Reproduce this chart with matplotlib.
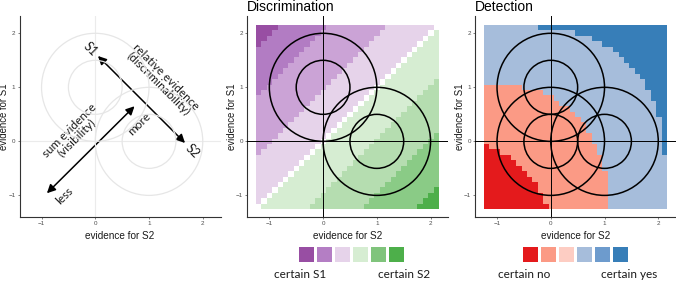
import numpy as np
import matplotlib
matplotlib.use("Agg")
import matplotlib.pyplot as plt
from matplotlib.patches import Circle
from matplotlib.colors import ListedColormap

plt.rcParams['font.family'] = ['Liberation Sans', 'DejaVu Sans']
NOTE_FONT = ['Lato', 'DejaVu Sans']

# evidence grid (cell centres), same for both axes
grid = np.round(np.arange(-1.2, 2.15, 0.1), 1)
ticks = [-1, 0, 1, 2]

# stimulus distributions: centres (S2 evidence, S1 evidence) and contour radii
disc_centres = [(0, 1), (1, 0)]
det_centres = [(0, 0), (0, 1), (1, 0)]
radii = [0.5, 1.0]

# Discrimination: colour level by relative evidence (S1 - S2)
disc_edges = [-2.95, -1.95, -0.95, 0.0, 0.95, 2.05, 2.95]
disc_colors = ["#4daf4a", "#8acb86", "#b5ddb0", "#d6edd2",
               "#e6d3ea", "#cba3d6", "#b27cc3", "#984ea3"]
disc_legend = ["#984ea3", "#b47ec4", "#e6d3ea", "#d6edd2", "#80c47c", "#4daf4a"]

# Detection: per row (evidence for S1 from 2.1 down to -1.2)
# last cell of "certain no", last cell of "no", first cell of "certain yes"
det_red_end = [None] * 22 + [-1.2, -1.0, -0.8, -0.7, -0.6, -0.5,
                             -0.4, -0.3, -0.3, -0.2, -0.2, -0.1]
det_salmon_end = [None] * 11 + [-0.6, -0.2, 0.0, 0.1, 0.3, 0.4, 0.5, 0.6, 0.6,
                                0.7, 0.7, 0.8, 0.8, 0.9, 0.9, 0.9] + [1.0] * 7
det_dark_start = [-0.2, 0.5, 0.8, 1.0, 1.2, 1.3, 1.4, 1.5, 1.6, 1.7, 1.8,
                  1.8, 1.9, 1.9, 2.0, 2.0, 2.0] + [2.1] * 7 + [None] * 10
det_colors = ["#e41a1c", "#fb9a85", "#fdcdc3", "#a6bddb", "#6d9bcd", "#377eb8"]

W, H = 676, 281
fig = plt.figure(figsize=(W / 100, H / 100), dpi=100)

XLIM = (-1.41, 2.33)
YLIM = (-1.40, 2.32)
ext = (grid[0] - 0.05, grid[-1] + 0.05, grid[0] - 0.05, grid[-1] + 0.05)


def make_axes(left_px):
    ax = fig.add_axes([left_px / W, (H - 217) / H, 201 / W, 201 / H])
    ax.set_xlim(*XLIM)
    ax.set_ylim(*YLIM)
    ax.set_xticks(ticks)
    ax.set_yticks(ticks)
    ax.tick_params(labelsize=4.5, labelcolor="#4d4d4d", color="#4d4d4d",
                   length=1.5, width=0.5, pad=1.5)
    for s in ["top", "right"]:
        ax.spines[s].set_visible(False)
    for s in ["left", "bottom"]:
        ax.spines[s].set_color("#333333")
        ax.spines[s].set_linewidth(0.8)
    ax.set_xlabel("evidence for S2", fontsize=7.2, color="#1a1a1a")
    ax.set_ylabel("evidence for S1", fontsize=6.9, color="#1a1a1a")
    ax.xaxis.set_label_coords(0.5, -0.07)
    ax.yaxis.set_label_coords(-0.051, 0.5)
    return ax


def draw_circles(ax, centres, color, lw):
    for c in centres:
        for r in radii:
            ax.add_patch(Circle(c, r, fill=False, ec=color, lw=lw, zorder=4))


def draw_legend(left_px, colors, lab_left, lab_right, lab_x):
    lax = fig.add_axes([left_px / W, (H - 262) / H, 105 / W, 15 / H])
    lax.bar(np.arange(len(colors)), 1, width=15 / 18, color=colors, align="edge")
    lax.set_xlim(0, len(colors) - 3 / 18)
    lax.set_ylim(0, 1)
    lax.axis("off")
    for txt, x in zip([lab_left, lab_right], lab_x):
        fig.text(x / W, 1 - 275 / H, txt, ha="center", va="center",
                 fontsize=8.5, family=NOTE_FONT, color="#1a1a1a")


# ---- panel 1: schematic
ax1 = make_axes(19.5)
ax1.axhline(0, color="#ebebeb", lw=0.8, zorder=1)
ax1.axvline(0, color="#ebebeb", lw=0.8, zorder=1)
draw_circles(ax1, disc_centres, "#e6e6e6", 0.9)
arrow = dict(arrowstyle="<|-|>,head_length=0.5,head_width=0.25", lw=1.1,
             color="black", shrinkA=0, shrinkB=0)
ax1.annotate("", xy=(0.05, 1.58), xytext=(1.67, -0.03), arrowprops=arrow)
ax1.annotate("", xy=(-0.9, -0.96), xytext=(0.73, 0.65), arrowprops=arrow)
note = dict(ha="center", va="center", rotation_mode="anchor",
            family=NOTE_FONT, color="#1a1a1a")
ax1.text(-0.1, 1.7, "S1", rotation=-45, fontsize=9, **note)
ax1.text(1.8, -0.19, "S2", rotation=-45, fontsize=9, **note)
ax1.text(1.25, 1.13, "relative evidence\n(discriminability)", rotation=-45,
         fontsize=8.5, linespacing=0.95, **note)
ax1.text(-0.41, 0.13, "sum evidence\n(visibility)", rotation=45,
         fontsize=8.5, linespacing=0.95, **note)
ax1.text(0.82, 0.33, "more", rotation=45, fontsize=8.5, **note)
ax1.text(-0.58, -1.01, "less", rotation=45, fontsize=8.5, **note)

# ---- panel 2: discrimination
X, Y = np.meshgrid(grid, grid)
diff = np.round(Y - X, 2)
disc = np.digitize(diff, disc_edges).astype(float)
disc[np.abs(diff) < 0.05] = np.nan

ax2 = make_axes(247.3)
ax2.imshow(np.ma.masked_invalid(disc), origin="lower", extent=ext,
           cmap=ListedColormap(disc_colors), vmin=-0.5, vmax=7.5,
           interpolation="nearest", aspect="auto", zorder=1)
ax2.axhline(0, color="black", lw=0.7, zorder=3)
ax2.axvline(0, color="black", lw=0.7, zorder=3)
draw_circles(ax2, disc_centres, "black", 1.1)
ax2.set_xlim(*XLIM)
ax2.set_ylim(*YLIM)
ax2.set_title("Discrimination", loc="left", fontsize=10, pad=3.5, x=0.0)
draw_legend(299, disc_legend, "certain S1", "certain S2", [300.5, 404.5])

# ---- panel 3: detection
det = np.full((len(grid), len(grid)), 3.0)
for i, yv in enumerate(grid[::-1]):
    row = len(grid) - 1 - i
    if det_salmon_end[i] is not None:
        det[row, grid <= det_salmon_end[i] + 1e-9] = 1
    if det_red_end[i] is not None:
        det[row, grid <= det_red_end[i] + 1e-9] = 0
    if det_dark_start[i] is not None:
        det[row, grid >= det_dark_start[i] - 1e-9] = 5

ax3 = make_axes(475)
ax3.imshow(det, origin="lower", extent=ext, cmap=ListedColormap(det_colors),
           vmin=-0.5, vmax=5.5, interpolation="nearest", aspect="auto", zorder=1)
ax3.axhline(0, color="black", lw=0.7, zorder=3)
ax3.axvline(0, color="black", lw=0.7, zorder=3)
draw_circles(ax3, det_centres, "black", 1.1)
ax3.set_xlim(*XLIM)
ax3.set_ylim(*YLIM)
ax3.set_title("Detection", loc="left", fontsize=10, pad=3.5, x=0.0)
draw_legend(522.7, det_colors, "certain no", "certain yes", [524, 629.5])

fig.savefig("out.png", dpi=100)
